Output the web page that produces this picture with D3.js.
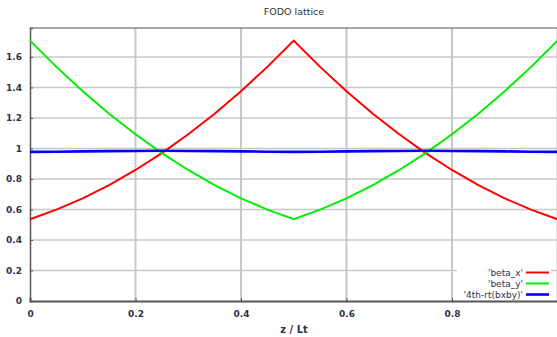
<!DOCTYPE html>
<html>
<head>
<meta charset="utf-8">
<script src="https://cdn.jsdelivr.net/npm/d3@7"></script>
<style>
  html, body { margin: 0; padding: 0; background: #fff; }
  svg { display: block; }
</style>
</head>
<body>
<script>
// ---- data ----
const zValues = [0, 0.05, 0.1, 0.15, 0.2, 0.25, 0.3, 0.35, 0.4, 0.45, 0.5,
                 0.55, 0.6, 0.65, 0.7, 0.75, 0.8, 0.85, 0.9, 0.95, 1.0];
const betaX = [0.536, 0.599, 0.673, 0.760, 0.859, 0.970, 1.093, 1.228, 1.376, 1.535, 1.707,
               1.535, 1.376, 1.228, 1.093, 0.970, 0.859, 0.760, 0.673, 0.599, 0.536];
const betaY = [1.707, 1.535, 1.376, 1.228, 1.093, 0.970, 0.859, 0.760, 0.673, 0.599, 0.536,
               0.599, 0.673, 0.760, 0.859, 0.970, 1.093, 1.228, 1.376, 1.535, 1.707];
const root4 = [0.978, 0.979, 0.981, 0.983, 0.984, 0.985, 0.984, 0.983, 0.981, 0.979, 0.978,
               0.979, 0.981, 0.983, 0.984, 0.985, 0.984, 0.983, 0.981, 0.979, 0.978];
const seriesNames = ["'beta_x'", "'beta_y'", "'4th-rt(bxby)'"];
const seriesColors = ["#ff0000", "#00ee00", "#0000ff"];
const xTicks = [0, 0.2, 0.4, 0.6, 0.8];
const xGrid = [0.2, 0.4, 0.6, 0.8, 1.0];
const yTicks = [0, 0.2, 0.4, 0.6, 0.8, 1, 1.2, 1.4, 1.6];
const titleText = "FODO lattice";
const xLabelText = "z / Lt";

const W = 557, H = 337;
const svg = d3.select("body").append("svg").attr("width", W).attr("height", H);

const x = d3.scaleLinear().domain([0, 1]).range([30, 557.5]);
const y = d3.scaleLinear().domain([0, 1.79]).range([301, 28]);

const fontFam = "Tahoma, 'DejaVu Sans', sans-serif";
const textCol = "#30304a";

// grid
svg.append("g").selectAll("line").data(yTicks.filter(d => d > 0)).join("line")
  .attr("x1", x(0)).attr("x2", W).attr("y1", d => y(d)).attr("y2", d => y(d))
  .attr("stroke", "#c8c8c8").attr("stroke-width", 1.4);
svg.append("g").selectAll("line").data(xGrid).join("line")
  .attr("x1", d => x(d)).attr("x2", d => x(d)).attr("y1", y(1.79)).attr("y2", y(0))
  .attr("stroke", "#c8c8c8").attr("stroke-width", 2);

// top border
svg.append("line").attr("x1", x(0)).attr("x2", W).attr("y1", y(1.79)).attr("y2", y(1.79))
  .attr("stroke", "#555").attr("stroke-width", 1.2);

// axes
const xAxis = d3.axisBottom(x).tickValues(xTicks).tickSize(-3).tickPadding(8)
  .tickFormat(d => d3.format("~g")(d));
const gx = svg.append("g").attr("transform", `translate(0,${y(0)})`).call(xAxis);
gx.select(".domain").attr("stroke", "#555").attr("stroke-width", 2);
gx.selectAll(".tick line").attr("stroke", "#555");
gx.selectAll(".tick text").attr("font-family", fontFam).attr("font-size", 9)
  .attr("fill", textCol).attr("font-weight", "bold").attr("dy", "0.9em");

const yAxis = d3.axisLeft(y).tickValues(yTicks).tickSize(-3).tickPadding(8)
  .tickFormat(d => d3.format("~g")(d));
const gy = svg.append("g").attr("transform", `translate(${x(0)},0)`).call(yAxis);
gy.select(".domain").attr("stroke", "#555").attr("stroke-width", 1.5);
gy.selectAll(".tick line").attr("stroke", "#555");
gy.selectAll(".tick text").attr("font-family", fontFam).attr("font-size", 9)
  .attr("fill", textCol).attr("font-weight", "bold");

// lines
const allSeries = [betaX, betaY, root4];
const widths = [2, 2, 2.6];
const line = d3.line().x(d => x(d[0])).y(d => y(d[1]));
allSeries.forEach((vals, i) => {
  svg.append("path")
    .datum(zValues.map((z, j) => [z, vals[j]]))
    .attr("fill", "none").attr("stroke", seriesColors[i])
    .attr("stroke-width", widths[i]).attr("stroke-linejoin", "miter")
    .attr("d", line);
});

// title & x label
svg.append("text").attr("x", 294).attr("y", 15).attr("text-anchor", "middle")
  .attr("font-family", fontFam).attr("font-size", 9.5).attr("fill", "#333")
  .text(titleText);
svg.append("text").attr("x", 294).attr("y", 333).attr("text-anchor", "middle")
  .attr("font-family", fontFam).attr("font-size", 10).attr("font-weight", "bold")
  .attr("fill", textCol).text(xLabelText);

// legend
const lg = svg.append("g");
lg.append("rect").attr("x", 457).attr("y", 264).attr("width", 94).attr("height", 36)
  .attr("fill", "#fff");
seriesNames.forEach((name, i) => {
  const yy = 272.5 + i * 11;
  lg.append("text").attr("x", 523).attr("y", yy).attr("dy", "0.35em")
    .attr("text-anchor", "end").attr("font-family", fontFam).attr("font-size", 9)
    .attr("fill", textCol).text(name);
  lg.append("line").attr("x1", 526).attr("x2", 549).attr("y1", yy).attr("y2", yy)
    .attr("stroke", seriesColors[i]).attr("stroke-width", widths[i]);
});
</script>
</body>
</html>
